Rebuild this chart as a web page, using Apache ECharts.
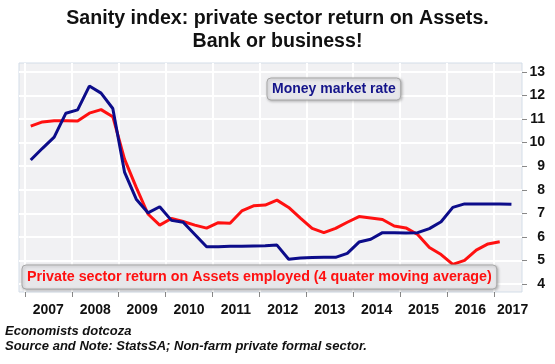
<!DOCTYPE html>
<html><head><meta charset="utf-8">
<script src="https://cdn.jsdelivr.net/npm/echarts@6/dist/echarts.min.js"></script>
<style>html,body{margin:0;padding:0;background:#fff}#c{width:555px;height:364px}</style>
</head><body><div id="c"></div>
<script>
// Quarterly observations, first quarter = 2007Q1
const years = ['2007','2008','2009','2010','2011','2012','2013','2014','2015','2016','2017'];
const moneyMarket = [9.26,9.76,10.23,11.25,11.39,12.4,12.1,11.45,8.75,7.6,7.02,7.28,6.7,6.62,6.1,5.58,
  5.58,5.6,5.6,5.61,5.62,5.65,5.05,5.1,5.12,5.13,5.13,5.3,5.78,5.9,6.18,6.18,6.16,6.18,6.35,6.64,
  7.25,7.4,7.4,7.4,7.4,7.38];
const privateROA = [10.7,10.88,10.93,10.93,10.92,11.25,11.4,11.1,9.3,8.1,6.97,6.5,6.78,6.65,6.5,6.37,
  6.6,6.58,7.1,7.32,7.35,7.56,7.25,6.8,6.36,6.18,6.36,6.62,6.86,6.8,6.74,6.46,6.38,6.1,5.55,5.25,
  4.83,5.0,5.44,5.7,5.79];
const yTicks = [4,5,6,7,8,9,10,11,12,13];
const titleLines = ['Sanity index: private sector return on Assets.', 'Bank or business!'];
const nameMM = 'Money market rate';
const nameROA = 'Private sector return on Assets employed (4 quater moving average)';

const FONT = 'Liberation Sans, Arial, sans-serif';
const tickPos = years.map((y, k) => k * 4);
const labelPos = years.map((y, k) => Math.min(k * 4 + 2, 41.6));
const toPts = arr => arr.map((v, i) => [i + 0.5, v]);
const titleStyle = {fontFamily: FONT, fontSize: 19.6, fontWeight: 'bold', color: '#111'};

const chart = echarts.init(document.getElementById('c'), null, {renderer: 'canvas'});
chart.setOption({
  animation: false,
  backgroundColor: '#ffffff',
  title: [{
    text: titleLines[0], left: 'center', top: 9, padding: 0, textStyle: titleStyle
  }, {
    text: titleLines[1], left: 'center', top: 32, padding: 0, textStyle: titleStyle
  }, {
    text: 'Economists dotcoza\nSource and Note: StatsSA; Non-farm private formal sector.',
    left: 5, top: 324, padding: 0,
    textStyle: {fontFamily: FONT, fontSize: 13, fontWeight: 'bold', fontStyle: 'italic', color: '#111', lineHeight: 15}
  }],
  legend: [{
    data: [{name: nameMM, icon: 'none'}],
    left: 267, top: 78, itemWidth: 0, itemHeight: 0, selectedMode: false,
    padding: [4, 5, 4, 0],
    backgroundColor: '#e7e7ea', borderColor: '#a8a8a8', borderWidth: 1, borderRadius: 4,
    shadowBlur: 3, shadowColor: 'rgba(0,0,0,0.25)', shadowOffsetX: 1, shadowOffsetY: 1,
    textStyle: {fontFamily: FONT, fontSize: 14, fontWeight: 'bold', color: '#14148a'}
  }, {
    data: [{name: nameROA, icon: 'none'}],
    left: 22, top: 265, itemWidth: 0, itemHeight: 0, selectedMode: false,
    padding: [5, 5, 5, 0],
    backgroundColor: '#e7e7ea', borderColor: '#a8a8a8', borderWidth: 1, borderRadius: 4,
    shadowBlur: 3, shadowColor: 'rgba(0,0,0,0.25)', shadowOffsetX: 1, shadowOffsetY: 1,
    textStyle: {fontFamily: FONT, fontSize: 14.3, fontWeight: 'bold', color: '#ff1010'}
  }],
  grid: {
    left: 19, right: 33, top: 63, bottom: 72,
    show: true, backgroundColor: '#f1f1f3', borderColor: '#d3dde8', borderWidth: 1
  },
  xAxis: {
    type: 'value', min: -0.5, max: 42.4,
    axisLine: {show: false, onZero: false},
    axisTick: {show: true, length: 5, lineStyle: {color: '#888'}, customValues: tickPos},
    axisLabel: {
      customValues: labelPos, margin: 11,
      fontFamily: FONT, fontSize: 14, fontWeight: 'bold', color: '#111',
      formatter: v => years[Math.floor(v / 4)]
    },
    splitLine: {show: true, lineStyle: {color: '#ffffff', width: 2}}
  },
  yAxis: {
    type: 'value', position: 'right', min: 3.66, max: 13.38,
    axisLine: {show: false, onZero: false},
    axisTick: {show: true, length: 5, lineStyle: {color: '#888'}, customValues: yTicks},
    axisLabel: {
      customValues: yTicks, margin: 23, align: 'right',
      fontFamily: FONT, fontSize: 14, fontWeight: 'bold', color: '#111'
    },
    splitLine: {show: true, lineStyle: {color: '#ffffff', width: 2}}
  },
  series: [{
    name: nameROA, type: 'line', data: toPts(privateROA), symbol: 'none',
    lineStyle: {color: '#ff1010', width: 3}, itemStyle: {color: '#ff1010'}
  }, {
    name: nameMM, type: 'line', data: toPts(moneyMarket), symbol: 'none',
    lineStyle: {color: '#0c0c8a', width: 3}, itemStyle: {color: '#0c0c8a'}
  }]
});
</script>
</body></html>
